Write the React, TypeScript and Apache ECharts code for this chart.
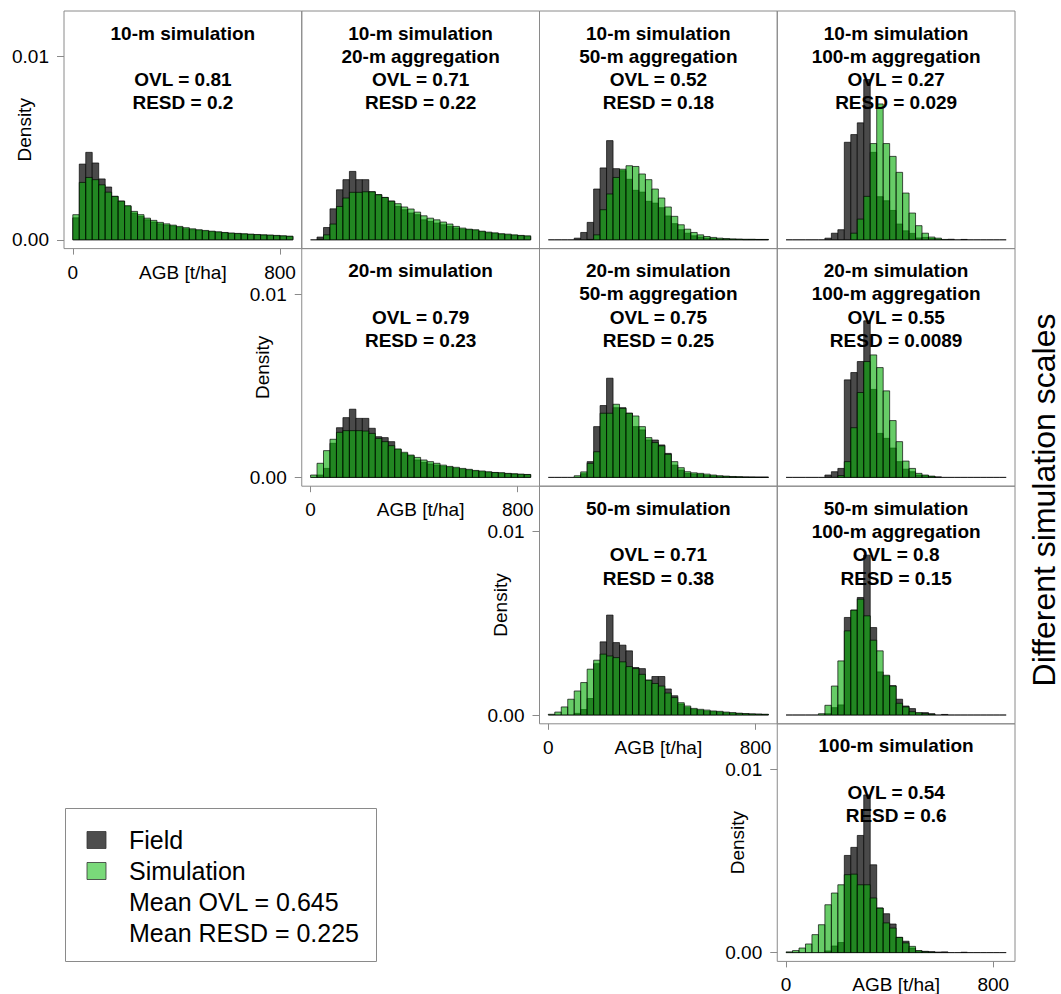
import React, { useEffect, useRef } from "react";
import * as echarts from "echarts";

// ---- bins (AGB, t/ha) ----
const BIN_STARTS = [0, 25, 50, 75, 100, 125, 150, 175, 200, 225, 250, 275, 300, 325, 350, 375, 400, 425, 450, 475, 500, 525, 550, 575, 600, 625, 650, 675, 700, 725, 750, 775, 800, 825];
const BIN_WIDTH = 25;
const X_TICKS = [0, 800];
// densities are stored in units of 10^-3
const Y_TICKS = [0, 10];

// ---- histogram values (density x 10^-3) ----
const FIELD_10_10 = [1.2, 4.13, 4.77, 4.19, 3.32, 2.88, 2.37, 2.11, 1.83, 1.46, 1.28, 1.09, 0.97, 0.87, 0.8, 0.75, 0.67, 0.6, 0.55, 0.51, 0.47, 0.44, 0.4, 0.38, 0.35, 0.33, 0.31, 0.29, 0.27, 0.26, 0.24, 0.22, 0.2, 0.18];
const SIM_10_10 = [1.37, 3.13, 3.4, 3.28, 3.0, 2.6, 2.37, 2.11, 1.86, 1.55, 1.37, 1.18, 1.06, 0.95, 0.87, 0.8, 0.73, 0.66, 0.6, 0.55, 0.51, 0.47, 0.44, 0.4, 0.37, 0.35, 0.33, 0.31, 0.29, 0.27, 0.26, 0.24, 0.22, 0.2];

const FIELD_10_20 = [0, 0.15, 0.67, 1.69, 2.73, 3.28, 3.73, 3.28, 3.28, 2.62, 2.46, 2.31, 2.11, 1.82, 1.64, 1.46, 1.37, 1.09, 1.0, 0.91, 0.82, 0.73, 0.64, 0.58, 0.55, 0.51, 0.44, 0.38, 0.35, 0.31, 0.27, 0.24, 0.22, 0.18];
const SIM_10_20 = [0, 0.03, 0.27, 0.86, 1.82, 2.28, 2.59, 2.59, 2.62, 2.62, 2.46, 2.31, 2.11, 1.97, 1.79, 1.68, 1.51, 1.31, 1.18, 1.09, 0.97, 0.86, 0.73, 0.64, 0.58, 0.55, 0.47, 0.42, 0.38, 0.33, 0.31, 0.27, 0.24, 0.22];

const FIELD_10_50 = [0, 0, 0, 0, 0.09, 0.4, 0.95, 2.77, 3.92, 5.41, 3.88, 3.77, 3.3, 2.7, 2.6, 2.1, 2.0, 1.75, 1.3, 0.88, 0.55, 0.36, 0.22, 0.15, 0.09, 0.06, 0.04, 0.03, 0.02, 0.02, 0.01, 0.01, 0.01, 0.01];
const SIM_10_50 = [0, 0, 0, 0, 0, 0, 0.02, 0.27, 1.64, 2.5, 3.4, 3.85, 4.04, 4.0, 3.59, 3.28, 2.77, 2.28, 1.79, 1.28, 0.82, 0.58, 0.4, 0.27, 0.18, 0.13, 0.09, 0.07, 0.05, 0.04, 0.03, 0.03, 0.02, 0.02];

const FIELD_10_100 = [0, 0, 0, 0, 0, 0, 0.09, 0.36, 0.55, 5.32, 5.74, 6.38, 8.74, 4.77, 2.35, 2.13, 1.6, 0.86, 0.49, 0.35, 0.1, 0.13, 0.07, 0.03, 0, 0.03, 0, 0.02, 0, 0, 0, 0, 0, 0];
const SIM_10_100 = [0, 0, 0, 0, 0, 0, 0, 0, 0, 0, 0.36, 1.13, 2.37, 5.25, 7.41, 5.25, 4.55, 3.68, 2.55, 1.46, 0.77, 0.36, 0.15, 0.09, 0.02, 0, 0, 0, 0, 0, 0, 0, 0, 0];

const FIELD_20_20 = [0, 0.13, 0.49, 1.86, 2.71, 3.26, 3.72, 3.22, 3.22, 2.68, 2.22, 2.17, 1.95, 1.53, 1.31, 1.18, 0.95, 0.82, 0.73, 0.67, 0.6, 0.55, 0.49, 0.44, 0.4, 0.35, 0.31, 0.27, 0.26, 0.22, 0.2, 0.18, 0.16, 0.15];
const SIM_20_20 = [0.13, 0.77, 1.46, 2.08, 2.46, 2.55, 2.55, 2.55, 2.53, 2.4, 2.13, 1.95, 1.73, 1.55, 1.37, 1.22, 1.09, 0.95, 0.86, 0.77, 0.67, 0.6, 0.55, 0.49, 0.44, 0.38, 0.35, 0.31, 0.27, 0.26, 0.22, 0.2, 0.18, 0.16];

const FIELD_20_50 = [0, 0, 0, 0, 0, 0.2, 0.86, 2.77, 3.92, 5.41, 3.8, 3.8, 3.5, 2.77, 2.59, 2.04, 2.04, 1.77, 1.31, 0.67, 0.4, 0.22, 0.18, 0.16, 0.1, 0.08, 0.06, 0.05, 0.03, 0.02, 0.02, 0.01, 0.01, 0.01];
const SIM_20_50 = [0, 0, 0, 0, 0.09, 0.3, 0.77, 1.4, 3.5, 3.5, 3.99, 3.77, 3.5, 3.35, 2.77, 2.17, 1.9, 1.72, 1.26, 0.86, 0.53, 0.31, 0.25, 0.22, 0.18, 0.13, 0.09, 0.07, 0.05, 0.04, 0.02, 0.02, 0.01, 0.01];

const FIELD_20_100 = [0, 0, 0, 0, 0, 0, 0.13, 0.31, 0.49, 5.32, 5.72, 6.32, 8.54, 4.8, 2.4, 2.13, 1.6, 0.86, 0.45, 0.31, 0.13, 0.09, 0.05, 0.03, 0, 0, 0, 0, 0, 0, 0, 0, 0, 0];
const SIM_20_100 = [0, 0, 0, 0, 0, 0, 0, 0, 0.1, 0.86, 2.71, 4.63, 6.32, 6.68, 5.99, 4.72, 3.1, 1.95, 0.89, 0.49, 0.22, 0.13, 0.07, 0, 0, 0, 0, 0, 0, 0, 0, 0, 0, 0];

const FIELD_50_50 = [0, 0, 0, 0, 0.09, 0.3, 0.9, 2.8, 3.99, 5.45, 3.95, 3.81, 3.5, 2.59, 2.53, 1.9, 2.1, 2.1, 1.42, 1.05, 0.6, 0.4, 0.3, 0.25, 0.2, 0.18, 0.15, 0.12, 0.1, 0.08, 0.06, 0.05, 0.04, 0.03];
const SIM_50_50 = [0.04, 0.16, 0.44, 0.86, 1.31, 1.77, 2.5, 2.99, 3.32, 3.22, 3.13, 2.9, 2.64, 2.53, 2.22, 1.9, 1.72, 1.58, 1.2, 0.95, 0.67, 0.49, 0.36, 0.31, 0.27, 0.22, 0.2, 0.16, 0.13, 0.1, 0.08, 0.06, 0.05, 0.04];

const FIELD_50_100 = [0, 0, 0, 0, 0, 0, 0.07, 0.4, 0.55, 5.32, 5.72, 6.41, 8.72, 4.77, 2.35, 2.13, 1.6, 0.86, 0.49, 0.35, 0.1, 0.13, 0.07, 0, 0.03, 0, 0, 0, 0, 0, 0, 0, 0, 0];
const SIM_50_100 = [0, 0, 0, 0, 0, 0.07, 0.53, 1.58, 2.95, 4.59, 5.72, 6.32, 5.41, 4.08, 3.5, 2.17, 1.58, 0.64, 0.44, 0.18, 0.13, 0.07, 0.04, 0, 0, 0, 0, 0, 0, 0, 0, 0, 0, 0];

const FIELD_100_100 = [0, 0, 0, 0, 0, 0, 0.09, 0.36, 0.55, 5.3, 5.74, 6.39, 8.6, 4.79, 2.43, 2.12, 1.56, 0.83, 0.62, 0.25, 0.09, 0.07, 0.05, 0.03, 0.04, 0, 0, 0.02, 0, 0, 0, 0, 0, 0];
const SIM_100_100 = [0.04, 0.11, 0.25, 0.47, 0.98, 1.52, 2.61, 3.25, 3.7, 4.25, 4.28, 3.7, 3.7, 2.98, 2.43, 1.62, 1.34, 0.83, 0.53, 0.34, 0.11, 0.05, 0.03, 0, 0, 0, 0, 0, 0, 0, 0, 0, 0, 0];

// ---- panel texts ----
const TITLE_10_10 = ["10-m simulation", "", "OVL = 0.81", "RESD = 0.2"];
const TITLE_10_20 = ["10-m simulation", "20-m aggregation", "OVL = 0.71", "RESD = 0.22"];
const TITLE_10_50 = ["10-m simulation", "50-m aggregation", "OVL = 0.52", "RESD = 0.18"];
const TITLE_10_100 = ["10-m simulation", "100-m aggregation", "OVL = 0.27", "RESD = 0.029"];
const TITLE_20_20 = ["20-m simulation", "", "OVL = 0.79", "RESD = 0.23"];
const TITLE_20_50 = ["20-m simulation", "50-m aggregation", "OVL = 0.75", "RESD = 0.25"];
const TITLE_20_100 = ["20-m simulation", "100-m aggregation", "OVL = 0.55", "RESD = 0.0089"];
const TITLE_50_50 = ["50-m simulation", "", "OVL = 0.71", "RESD = 0.38"];
const TITLE_50_100 = ["50-m simulation", "100-m aggregation", "OVL = 0.8", "RESD = 0.15"];
const TITLE_100_100 = ["100-m simulation", "", "OVL = 0.54", "RESD = 0.6"];

const LEGEND_ITEMS = ["Field", "Simulation"];
const LEGEND_STATS = ["Mean OVL = 0.645", "Mean RESD = 0.225"];
const SIDE_LABEL = "Different simulation scales";
const X_NAME = "AGB [t/ha]";
const Y_NAME = "Density";

type Panel = { row: number; col: number; lines: string[]; field: number[]; sim: number[]; axes: boolean };

const PANELS: Panel[] = [
  { row: 0, col: 0, lines: TITLE_10_10, field: FIELD_10_10, sim: SIM_10_10, axes: true },
  { row: 0, col: 1, lines: TITLE_10_20, field: FIELD_10_20, sim: SIM_10_20, axes: false },
  { row: 0, col: 2, lines: TITLE_10_50, field: FIELD_10_50, sim: SIM_10_50, axes: false },
  { row: 0, col: 3, lines: TITLE_10_100, field: FIELD_10_100, sim: SIM_10_100, axes: false },
  { row: 1, col: 1, lines: TITLE_20_20, field: FIELD_20_20, sim: SIM_20_20, axes: true },
  { row: 1, col: 2, lines: TITLE_20_50, field: FIELD_20_50, sim: SIM_20_50, axes: false },
  { row: 1, col: 3, lines: TITLE_20_100, field: FIELD_20_100, sim: SIM_20_100, axes: false },
  { row: 2, col: 2, lines: TITLE_50_50, field: FIELD_50_50, sim: SIM_50_50, axes: true },
  { row: 2, col: 3, lines: TITLE_50_100, field: FIELD_50_100, sim: SIM_50_100, axes: false },
  { row: 3, col: 3, lines: TITLE_100_100, field: FIELD_100_100, sim: SIM_100_100, axes: true },
];

// ---- styling / layout ----
const FONT = '"Liberation Sans", Arial, Helvetica, sans-serif';
const LEFT0 = 64;
const TOP0 = 11;
const CELL_W = 237.75;
const CELL_H = 237.6;
const X_MIN = -34;
const X_MAX = 884;
const Y_MIN = -0.48;
const Y_MAX = 12.48;
const LINE_OFFSETS = [22, 45.3, 68.6, 91.9];
const FIELD_FILL = "#4a4a4a";
const SIM_FILL = "rgba(10,173,10,0.62)";
const BAR_STROKE = "rgba(0,0,0,0.85)";
const FRAME = "#8a8a8a";

const barRenderer = (fill: string) => (_params: any, api: any) => {
  const x0 = api.value(0) as number;
  const h = api.value(1) as number;
  const base = api.coord([x0, 0]);
  const end = api.coord([x0 + BIN_WIDTH, h]);
  if (!(h > 0)) {
    return {
      type: "line",
      shape: { x1: base[0], y1: base[1], x2: end[0], y2: base[1] },
      style: { stroke: BAR_STROKE, lineWidth: 0.8 },
    };
  }
  return {
    type: "rect",
    shape: { x: base[0], y: end[1], width: end[0] - base[0], height: base[1] - end[1] },
    style: { fill, stroke: BAR_STROKE, lineWidth: 0.8 },
  };
};

function buildOption() {
  const grid = PANELS.map((p) => ({
    left: LEFT0 + p.col * CELL_W,
    top: TOP0 + p.row * CELL_H,
    width: CELL_W,
    height: CELL_H,
    show: true,
    borderColor: FRAME,
    borderWidth: 1,
    backgroundColor: "transparent",
    containLabel: false,
    outerBoundsMode: "none",
  }));

  const xAxis = PANELS.map((p, i) => ({
    type: "value",
    gridIndex: i,
    min: X_MIN,
    max: X_MAX,
    axisLine: { show: false, onZero: false },
    splitLine: { show: false },
    axisTick: { show: p.axes, customValues: X_TICKS, length: 6, lineStyle: { color: FRAME, width: 1 } },
    axisLabel: { show: p.axes, customValues: X_TICKS, margin: 14, fontSize: 19, color: "#000", fontFamily: FONT },
    name: p.axes ? X_NAME : "",
    nameLocation: "middle",
    nameGap: 14,
    nameMoveOverlap: false,
    nameTextStyle: { fontSize: 19, color: "#000", fontFamily: FONT },
  }));

  const yAxis = PANELS.map((p, i) => ({
    type: "value",
    gridIndex: i,
    min: Y_MIN,
    max: Y_MAX,
    axisLine: { show: false, onZero: false },
    splitLine: { show: false },
    axisTick: { show: p.axes, customValues: Y_TICKS, length: 7, lineStyle: { color: FRAME, width: 1 } },
    axisLabel: {
      show: p.axes,
      customValues: Y_TICKS,
      margin: 15,
      fontSize: 19,
      color: "#000",
      fontFamily: FONT,
      formatter: (v: number) => (v / 1000).toFixed(2),
    },
    name: p.axes ? Y_NAME : "",
    nameLocation: "middle",
    nameGap: 30,
    nameMoveOverlap: false,
    nameTextStyle: { fontSize: 19, color: "#000", fontFamily: FONT },
  }));

  const series: any[] = [];
  PANELS.forEach((p, i) => {
    series.push({
      type: "custom",
      name: "Field",
      xAxisIndex: i,
      yAxisIndex: i,
      silent: true,
      clip: false,
      renderItem: barRenderer(FIELD_FILL),
      encode: { x: 0, y: 1 },
      data: p.field.map((v, k) => [BIN_STARTS[k], v]),
    });
    series.push({
      type: "custom",
      name: "Simulation",
      xAxisIndex: i,
      yAxisIndex: i,
      silent: true,
      clip: false,
      renderItem: barRenderer(SIM_FILL),
      encode: { x: 0, y: 1 },
      data: p.sim.map((v, k) => [BIN_STARTS[k], v]),
    });
  });

  const graphic: any[] = [];
  PANELS.forEach((p) => {
    const cx = LEFT0 + p.col * CELL_W + CELL_W / 2;
    const top = TOP0 + p.row * CELL_H;
    p.lines.forEach((line, j) => {
      if (!line) return;
      graphic.push({
        type: "text",
        x: cx,
        y: top + LINE_OFFSETS[j],
        z: 100,
        silent: true,
        style: {
          text: line,
          fontSize: 19,
          fontWeight: "bold",
          fontFamily: FONT,
          fill: "#000",
          align: "center",
          verticalAlign: "middle",
        },
      });
    });
  });

  // legend box
  graphic.push({
    type: "rect",
    z: 100,
    silent: true,
    shape: { x: 65.5, y: 808.5, width: 311, height: 153 },
    style: { fill: "#fff", stroke: FRAME, lineWidth: 1 },
  });
  const swatchFills = ["#4d4d4d", "#7ad97a"];
  const legendY = [840, 871, 902, 933];
  LEGEND_ITEMS.forEach((label, k) => {
    graphic.push({
      type: "rect",
      z: 101,
      silent: true,
      shape: { x: 87, y: legendY[k] - 8.5, width: 19, height: 17 },
      style: { fill: swatchFills[k], stroke: "#333", lineWidth: 0.8 },
    });
    graphic.push({
      type: "text",
      z: 101,
      silent: true,
      x: 129,
      y: legendY[k],
      style: { text: label, fontSize: 25, fontFamily: FONT, fill: "#000", align: "left", verticalAlign: "middle" },
    });
  });
  LEGEND_STATS.forEach((label, k) => {
    graphic.push({
      type: "text",
      z: 101,
      silent: true,
      x: 129,
      y: legendY[k + 2],
      style: { text: label, fontSize: 25, fontFamily: FONT, fill: "#000", align: "left", verticalAlign: "middle" },
    });
  });

  graphic.push({
    type: "text",
    z: 100,
    silent: true,
    x: 1044,
    y: 500,
    rotation: Math.PI / 2,
    style: { text: SIDE_LABEL, fontSize: 32, fontFamily: FONT, fill: "#000", align: "center", verticalAlign: "middle" },
  });

  return {
    animation: false,
    backgroundColor: "#ffffff",
    textStyle: { fontFamily: FONT },
    grid,
    xAxis,
    yAxis,
    series,
    graphic,
  };
}

export default function App() {
  const ref = useRef<HTMLDivElement | null>(null);
  useEffect(() => {
    if (!ref.current) return;
    const chart = echarts.init(ref.current, null, { renderer: "svg" });
    chart.setOption(buildOption() as any);
    return () => chart.dispose();
  }, []);
  return <div ref={ref} style={{ position: "absolute", left: 0, top: 0, width: 1061, height: 994 }} />;
}
